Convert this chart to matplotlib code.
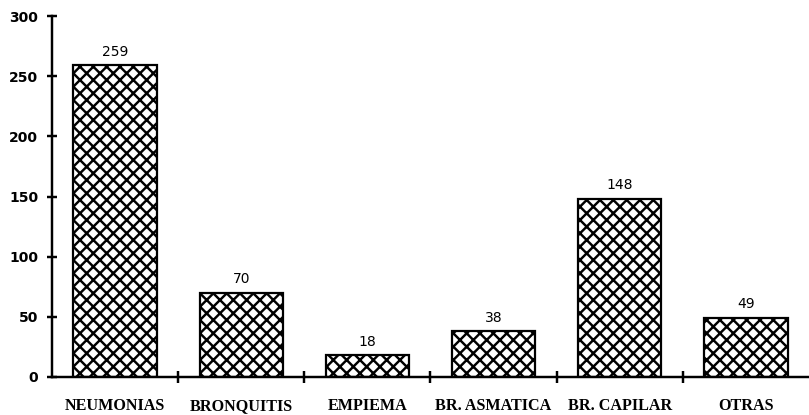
import matplotlib
matplotlib.use("Agg")
import matplotlib.pyplot as plt
import numpy as np

categories = ["NEUMONIAS", "BRONQUITIS", "EMPIEMA", "BR. ASMATICA", "BR. CAPILAR", "OTRAS"]
values = [259, 70, 18, 38, 148, 49]
yticks = [0, 50, 100, 150, 200, 250, 300]

DPI = 80
plt.rcParams['hatch.linewidth'] = 2.2
plt.rcParams['hatch.color'] = 'black'
fig = plt.figure(figsize=(809 / DPI, 415 / DPI), dpi=DPI)
ax = fig.add_axes([52 / 809, 38 / 415, 757 / 809, 361 / 415])

x = np.arange(len(categories))
bars = ax.bar(x, values, width=0.66, color='white', edgecolor='black',
              linewidth=2.0, hatch='xx', zorder=2)

for xi, v in zip(x, values):
    ax.text(xi, v + 5.5, str(v), ha='center', va='bottom',
            fontsize=12.5, family='DejaVu Sans', color='black')

ax.set_xlim(-0.5, len(categories) - 0.5)
ax.set_ylim(0, 300)

ax.spines['top'].set_visible(False)
ax.spines['right'].set_visible(False)
ax.spines['left'].set_linewidth(2.2)
ax.spines['bottom'].set_linewidth(2.2)

ax.set_yticks(yticks)
ax.set_yticklabels([str(t) for t in yticks], fontsize=12.5,
                   family='DejaVu Sans', fontweight='bold')
ax.tick_params(axis='y', direction='inout', length=9, width=2.2, pad=8)

# boundary ticks between categories
ax.set_xticks(x[1:] - 0.5)
ax.set_xticklabels([])
ax.tick_params(axis='x', direction='inout', length=10, width=2.2)

# category labels (baseline aligned)
for xi, cat in zip(x, categories):
    ax.annotate(cat, (xi, 0), xycoords=('data', 'axes fraction'),
                xytext=(0, -30), textcoords='offset points',
                ha='center', va='baseline', fontsize=14.5,
                family='Liberation Serif', fontweight='bold',
                annotation_clip=False)

fig.savefig("out.png", dpi=DPI)
